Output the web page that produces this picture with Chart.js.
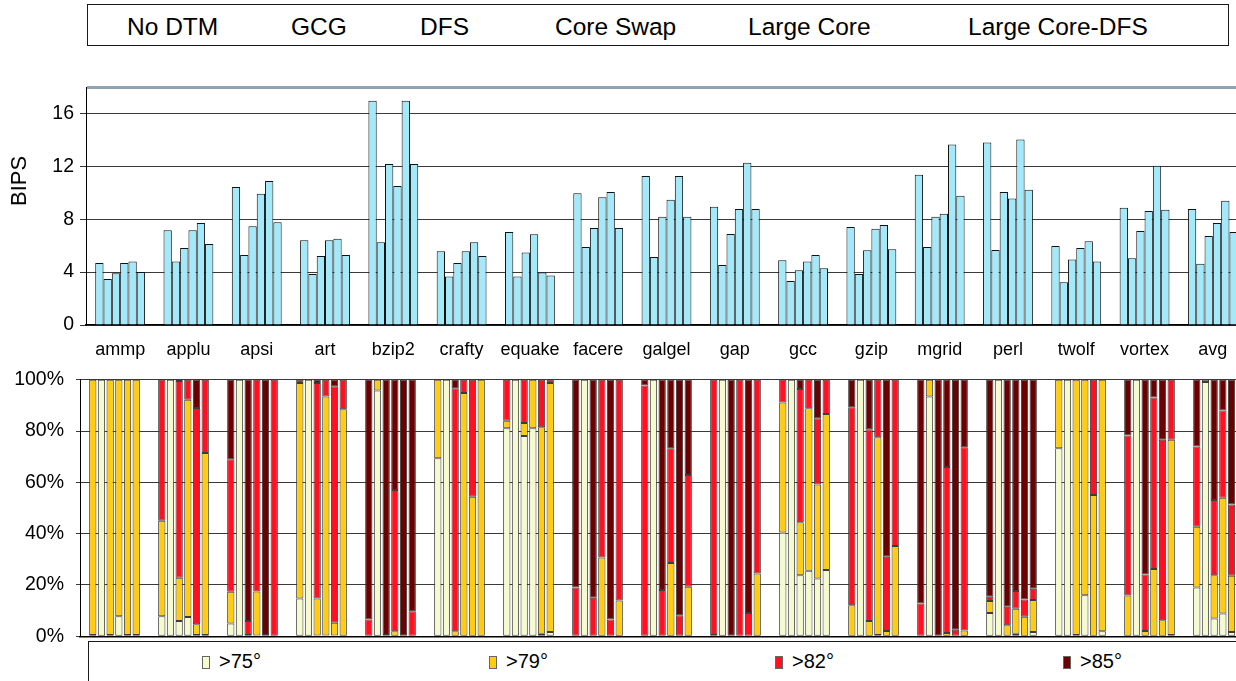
<!DOCTYPE html>
<html>
<head>
<meta charset="utf-8">
<script src="https://cdn.jsdelivr.net/npm/chart.js@4.4.1/dist/chart.umd.min.js"></script>
<style>
  html, body { margin: 0; padding: 0; background: #fff; }
  body { width: 1236px; height: 681px; overflow: hidden; position: relative; font-family: "Liberation Sans", Arial, sans-serif; }
  #bipsCanvas { position: absolute; left: 0; top: 0; }
  #tempCanvas { position: absolute; left: 0; top: 356px; }
  #bipsTitle { position: absolute; left: 19px; top: 181px; transform: translate(-50%, -50%) rotate(-90deg); font-size: 22px; white-space: nowrap; }
  .box { position: absolute; border: 1px solid #1a1a1a; background: #fff; }
  #configLegend { left: 87px; top: 4px; width: 1140px; height: 40px; }
  #configLegend span { position: absolute; top: 8px; font-size: 24.5px; color: #000; white-space: nowrap; }
  #configLegend span:nth-child(1) { left: 39px; }
  #configLegend span:nth-child(2) { left: 203px; }
  #configLegend span:nth-child(3) { left: 332px; }
  #configLegend span:nth-child(4) { left: 467px; }
  #configLegend span:nth-child(5) { left: 660px; }
  #configLegend span:nth-child(6) { left: 880px; }
  #tempLegend { left: 88px; top: 641px; width: 1200px; height: 60px; }
  #tempLegend .item { position: absolute; top: 8px; font-size: 20px; white-space: nowrap; }
  #tempLegend .item:nth-child(1) { left: 113px; }
  #tempLegend .item:nth-child(2) { left: 400px; }
  #tempLegend .item:nth-child(3) { left: 686px; }
  #tempLegend .item:nth-child(4) { left: 974px; }
  #tempLegend .sw { display: inline-block; width: 6px; height: 11px; border: 1px solid #666; margin-right: 9px; vertical-align: -1px; }
</style>
</head>
<body>
<div id="configLegend" class="box"></div>
<canvas id="bipsCanvas" width="1247" height="370"></canvas>
<div id="bipsTitle">BIPS</div>
<canvas id="tempCanvas" width="1253" height="304"></canvas>
<div id="tempLegend" class="box"></div>
<script>
const benchmarks = ['ammp', 'applu', 'apsi', 'art', 'bzip2', 'crafty', 'equake', 'facere', 'galgel',
    'gap', 'gcc', 'gzip', 'mgrid', 'perl', 'twolf', 'vortex', 'avg'];
const configs = ['No DTM', 'GCG', 'DFS', 'Core Swap', 'Large Core', 'Large Core-DFS'];

// BIPS per configuration (one value per benchmark)
const noDtm        = [4.68, 7.16, 10.43, 6.41, 16.96, 5.57, 7.04, 9.97, 11.27, 8.94, 4.89, 7.42, 11.37, 13.8, 5.97, 8.86, 8.78];
const gcg          = [3.47, 4.81, 5.29, 3.85, 6.25, 3.67, 3.67, 5.9, 5.14, 4.53, 3.32, 3.85, 5.9, 5.67, 3.24, 5.04, 4.63];
const dfs          = [3.92, 5.82, 7.47, 5.22, 12.18, 4.68, 5.49, 7.34, 8.18, 6.89, 4.15, 5.65, 8.18, 10.05, 4.96, 7.11, 6.73];
const coreSwap     = [4.68, 7.16, 9.92, 6.41, 10.51, 5.57, 6.86, 9.67, 9.47, 8.78, 4.81, 7.27, 8.41, 9.57, 5.82, 8.63, 7.72];
const largeCore    = [4.81, 7.72, 10.89, 6.53, 16.96, 6.25, 3.97, 10.05, 11.27, 12.28, 5.29, 7.57, 13.65, 14.03, 6.33, 12.05, 9.39];
const largeCoreDfs = [4.0, 6.13, 7.77, 5.29, 12.18, 5.22, 3.75, 7.34, 8.18, 8.78, 4.30, 5.72, 9.77, 10.23, 4.81, 8.71, 7.04];
const bipsTicks = [0, 4, 8, 12, 16];

// % of time above each temperature; one row per benchmark, one value per configuration
const tempLabels = ['>75°', '>79°', '>82°', '>85°'];
const over75 = [
    [0.5, 100, 0.5, 7.8, 0.5, 0.5], [7.8, 100, 6, 7.5, 0.5, 0.5], [5, 100, 0, 0.3, 0, 0], [14.7, 100, 0.3, 0.3, 0.3, 0],
    [0, 95.8, 0, 0, 0, 0], [69.4, 100, 0, 0, 0, 0], [81.1, 100, 78.1, 81.1, 1, 1.7], [0, 100, 0, 0, 0, 0],
    [0, 100, 0, 0, 0, 0], [0, 100, 0, 0, 0, 0], [40.5, 100, 23.8, 25.5, 22.5, 25.8], [0, 100, 0, 0.5, 0, 0],
    [0, 93.5, 0, 0, 0, 0], [9.1, 100, 0, 1, 0, 1.7], [73.3, 100, 0.5, 16, 0, 2], [0, 100, 0, 0, 0, 0.5],
    [19, 99.1, 6.9, 8.9, 1.7, 2]
];
const over79 = [
    [99.5, 0, 99.5, 92.2, 99.5, 99.5], [37.2, 0, 16.8, 84.7, 4.2, 70.9], [12.4, 0, 0.5, 17.2, 0, 0], [84, 0, 14.4, 93.2, 5, 88.5],
    [0, 4.2, 0, 2, 0, 0], [30.6, 0, 2, 94.8, 54.4, 100], [2.9, 0, 5, 18.9, 80.5, 97], [0, 0, 0, 30.7, 0, 14],
    [0, 0, 0, 28.6, 0, 19.3], [0.5, 0, 0, 0, 0, 24.5], [50.6, 0, 20.6, 63.4, 36.7, 60.8], [12.1, 0, 6, 77.1, 2.1, 35.2],
    [0, 6.5, 0, 1.3, 0, 2.3], [4.7, 0, 4.3, 9.7, 7.6, 12.4], [26.7, 0, 99.5, 84, 55.1, 98], [15.9, 0, 2.1, 26.2, 6.25, 76.1],
    [23.7, 0.9, 16.9, 45.1, 21.9, 48]
];
const over82 = [
    [0, 0, 0, 0, 0, 0], [55, 0, 76.7, 7.8, 84.3, 28.6], [51.6, 0, 5.5, 82.5, 0.5, 100], [1.3, 0, 84, 6.5, 92.1, 11.5],
    [6.5, 0, 0.5, 55, 0, 9.8], [0, 0, 94.7, 5.2, 45.6, 0], [16, 0, 16.9, 0, 18.5, 1.3], [19, 0, 15, 69.3, 6.5, 86],
    [97.7, 0, 18, 44.7, 8.2, 43.6], [99.5, 0, 0, 100, 9.1, 75.5], [8.9, 0, 52, 11.1, 25.8, 13.4], [77.2, 0, 74.7, 22.4, 28.9, 64.8],
    [12.8, 0, 0, 64.7, 2.6, 71.4], [1.6, 0, 7.2, 7, 6.7, 4.4], [0, 0, 0, 0, 44.9, 0], [62.4, 0, 22, 66.9, 70.3, 23.4],
    [31.3, 0, 29.3, 34, 27.8, 33.3]
];
const over85 = [
    [0, 0, 0, 0, 0, 0], [0, 0, 0.5, 0, 11, 0], [31, 0, 94, 0, 99.5, 0], [0, 0, 1.3, 0, 2.6, 0],
    [93.5, 0, 99.5, 43, 100, 90.2], [0, 0, 3.3, 0, 0, 0], [0, 0, 0, 0, 0, 0], [81, 0, 85, 0, 93.5, 0],
    [2.3, 0, 82, 26.7, 91.8, 37.1], [0, 0, 100, 0, 90.9, 0], [0, 0, 3.6, 0, 15, 0], [10.7, 0, 19.3, 0, 69, 0],
    [87.2, 0, 100, 34, 97.4, 26.3], [84.6, 0, 88.5, 82.3, 85.7, 81.5], [0, 0, 0, 0, 0, 0], [21.7, 0, 75.9, 6.9, 23.4, 0],
    [26, 0, 46.9, 12, 48.6, 14.7]
];
const pctTicks = [0, 20, 40, 60, 80, 100];

const barBlue = '#a3e9fa';
const tempColors = ['#f6fbcf', '#ffcc12', '#ff1122', '#6b0000'];
const FONT = '"Liberation Sans", Arial, sans-serif';

// legends (plain html boxes)
document.getElementById('configLegend').innerHTML = configs.map(c => `<span>${c}</span>`).join('');
document.getElementById('tempLegend').innerHTML = tempLabels.map((t, i) =>
    `<div class="item"><span class="sw" style="background:${tempColors[i]}"></span>${t}</div>`).join('');

Chart.defaults.font.family = FONT;
Chart.defaults.color = '#000';
Chart.defaults.animation = false;

const bipsSeries = [noDtm, gcg, dfs, coreSwap, largeCore, largeCoreDfs];

new Chart(document.getElementById('bipsCanvas'), {
    type: 'bar',
    data: {
        labels: benchmarks,
        datasets: bipsSeries.map((vals, i) => ({
            label: configs[i],
            data: vals,
            backgroundColor: barBlue,
            borderColor: '#111',
            borderWidth: 1,
            categoryPercentage: 0.73,
            barPercentage: 1.0
        }))
    },
    options: {
        responsive: false,
        layout: { padding: { top: 87, right: 0, left: 0, bottom: 0 } },
        plugins: { legend: { display: false }, tooltip: { enabled: false } },
        scales: {
            x: {
                grid: { display: false },
                border: { color: '#000', width: 1.5 },
                ticks: { font: { size: 18 }, padding: 6, autoSkip: false, maxRotation: 0 },
                afterFit: s => { s.height = 45; }
            },
            y: {
                min: 0, max: 18,
                afterBuildTicks: s => {
                    s.ticks = bipsTicks.map(v => ({ value: v })).concat([{ value: 18 }]);
                },
                ticks: {
                    font: { size: 19.5 }, padding: 6,
                    callback: v => (bipsTicks.includes(v) ? v : '')
                },
                grid: {
                    color: c => (c.tick && c.tick.value === 18 ? '#8ea4ae' : '#3a3a3a'),
                    lineWidth: c => (c.tick && c.tick.value === 18 ? 3 : 1),
                    tickColor: c => (c.tick && c.tick.value === 18 ? 'rgba(0,0,0,0)' : '#333'),
                    tickLength: 6
                },
                border: { color: '#000', width: 1 },
                afterFit: s => { s.width = 86; }
            }
        }
    }
});

const tempLevels = [over75, over79, over82, over85];
const tempDatasets = [];
configs.forEach((cfg, c) => {
    tempLevels.forEach((lvl, l) => {
        tempDatasets.push({
            label: cfg + ' ' + tempLabels[l],
            data: lvl.map(row => row[c]),
            stack: 'cfg' + c,
            backgroundColor: tempColors[l],
            borderColor: '#3c3c3c',
            borderWidth: 1,
            borderSkipped: false,
            categoryPercentage: 0.755,
            barPercentage: 0.84
        });
    });
});

new Chart(document.getElementById('tempCanvas'), {
    type: 'bar',
    data: { labels: benchmarks, datasets: tempDatasets },
    options: {
        responsive: false,
        layout: { padding: 0 },
        plugins: { legend: { display: false }, tooltip: { enabled: false } },
        scales: {
            x: {
                stacked: true,
                grid: { display: false },
                ticks: { display: false },
                border: { color: '#000', width: 1.5 },
                afterFit: s => { s.height = 4; }
            },
            y: {
                stacked: true,
                min: 0, max: 100,
                afterBuildTicks: s => { s.ticks = pctTicks.map(v => ({ value: v })); },
                ticks: { font: { size: 19.5 }, padding: 12, callback: v => v + '%' },
                grid: { color: '#3a3a3a', lineWidth: 1, tickLength: 4 },
                border: { color: '#000', width: 1 },
                afterFit: s => { s.width = 80; }
            }
        }
    }
});
</script>
</body>
</html>
